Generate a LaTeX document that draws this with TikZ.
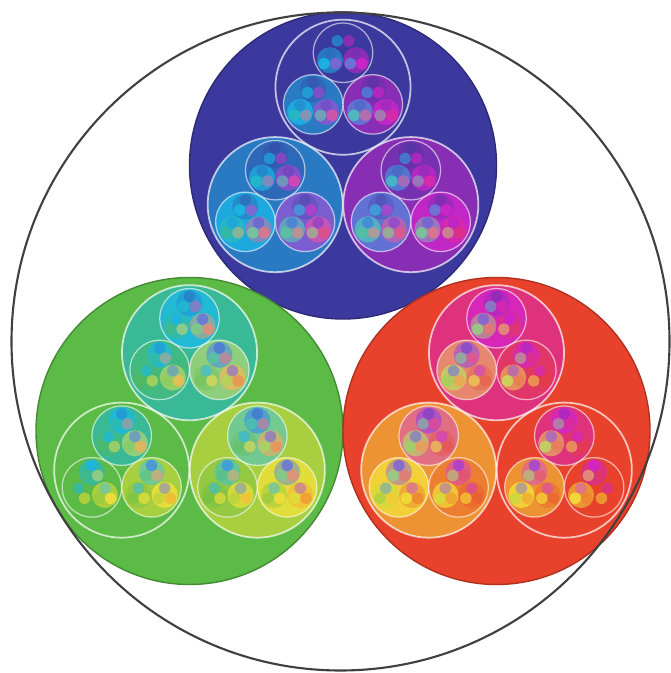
\documentclass[tikz,border=0pt]{standalone}
\usepackage{tikz}
\usepackage{xcolor}

\tikzset{
  rim/.style={draw=black!75, line width=0.6pt},
  ring/.style={draw=white, draw opacity=0.7, line width=0.5pt},
  thinring/.style={draw=white, draw opacity=0.6, line width=0.35pt},
  dot/.style={fill opacity=0.85},
}

% #1,#2 centre, #3 radius, #4-#6 weights (blue, green, red), #7 level
\newcommand\blob[7]{%
  \pgfmathsetmacro\wtB{#4}\pgfmathsetmacro\wtG{#5}\pgfmathsetmacro\wtR{#6}%
  \pgfmathsetmacro\kB{max(0,2*\wtB-1)}%
  \pgfmathsetmacro\kG{max(0,2*\wtG-1)}%
  \pgfmathsetmacro\kR{max(0,2*\wtR-1)}%
  \pgfmathsetmacro\kC{max(0,min(2*\wtB,2*\wtG,1-2*\wtR))}%
  \pgfmathsetmacro\kY{max(0,min(2*\wtG,2*\wtR,1-2*\wtB))}%
  \pgfmathsetmacro\kM{max(0,min(2*\wtB,2*\wtR,1-2*\wtG))}%
  \pgfmathtruncatemacro\chR{\kB*60+\kG*92+\kR*232+\kC*25+\kY*245+\kM*212}%
  \pgfmathtruncatemacro\chG{\kB*57+\kG*186+\kR*66+\kC*185+\kY*228+\kM*36}%
  \pgfmathtruncatemacro\chB{\kB*158+\kG*70+\kR*44+\kC*232+\kY*58+\kM*205}%
  \definecolor{tint}{RGB}{\chR,\chG,\chB}%
  \ifnum#7>3 \fill[tint, dot] (#1,#2) circle (#3);\else\fill[tint] (#1,#2) circle (#3);\fi
  \ifnum#7=1 \draw[tint!75!black, line width=0.4pt] (#1,#2) circle (#3);\fi
  \ifnum#7<5
    \ifcase#7 \or\def\mixw{0.25}\or\def\mixw{0.25}\else\def\mixw{0.3}\fi
    \foreach \ang/\eB/\eG/\eR in {90/1/0/0, 210/0/1/0, 330/0/0/1} {
      \pgfmathsetmacro\nx{#1+0.51*#3*cos(\ang)}
      \pgfmathsetmacro\ny{#2+0.51*#3*sin(\ang)}
      \pgfmathsetmacro\nrad{0.44*#3}
      \pgfmathsetmacro\nB{(1-\mixw)*#4+\mixw*\eB}
      \pgfmathsetmacro\nG{(1-\mixw)*#5+\mixw*\eG}
      \pgfmathsetmacro\nR{(1-\mixw)*#6+\mixw*\eR}
      \pgfmathtruncatemacro\nlev{#7+1}
      \edef\next{\noexpand\blob{\nx}{\ny}{\nrad}{\nB}{\nG}{\nR}{\nlev}}\next
    }
  \fi
  \ifnum#7=2 \draw[ring] (#1,#2) circle (#3);\fi
  \ifnum#7=3 \draw[thinring] (#1,#2) circle (#3);\fi
}

\begin{document}
\begin{tikzpicture}
  \useasboundingbox (0,0) rectangle (6.71,6.73);
  \fill[white] (0,0) rectangle (6.71,6.73);

  % blue, green, red
  \blob{3.43}{5.075}{1.535}{1}{0}{0}{1}
  \blob{1.895}{2.42}{1.535}{0}{1}{0}{1}
  \blob{4.965}{2.42}{1.535}{0}{0}{1}{1}

  % outer circle
  \draw[rim] (3.405,3.315) circle (3.29);
\end{tikzpicture}
\end{document}
